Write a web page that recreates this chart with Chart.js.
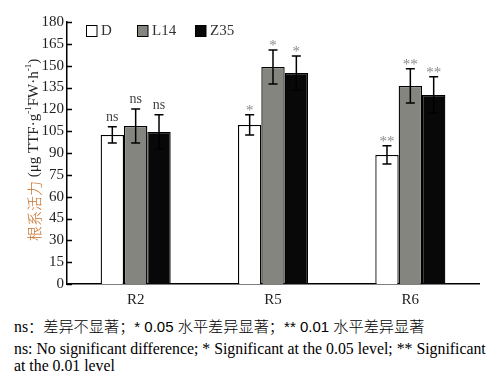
<!DOCTYPE html>
<html>
<head>
<meta charset="utf-8">
<script src="https://cdn.jsdelivr.net/npm/chart.js@4"></script>
<style>
  body { margin: 0; background: #fff; }
  #wrap { position: relative; width: 489px; height: 310px; }
  .note { position: absolute; left: 14px; font-family: "Liberation Serif", serif; font-size: 15.8px; color: #000; white-space: nowrap; line-height: 17px; }
  .cn { font-family: "Noto Sans CJK SC", sans-serif; font-size: 15.2px; font-weight: 300; }
  .sans { font-family: "Liberation Sans", sans-serif; font-size: 15px; }
</style>
</head>
<body>
<div id="wrap"><canvas id="chart" width="489" height="310"></canvas></div>
<div class="note" style="top:317px">ns<span class="cn">：差异不显著；</span><span class="sans">* 0.05 </span><span class="cn">水平差异显著；</span><span class="sans">** 0.01 </span><span class="cn">水平差异显著</span></div>
<div class="note" style="top:340px">ns: No significant difference; * Significant at the 0.05 level; ** Significant</div>
<div class="note" style="top:357px">at the 0.01 level</div>
<script>
// ── Dados ─────────────────────────────────────────────
const estagios = ['R2', 'R5', 'R6'];
const seriesNomes = ['D', 'L14', 'Z35'];
const valD   = [102.4, 109.3, 88.7];
const valL14 = [108.6, 149.1, 136.1];
const valZ35 = [104.5, 145.0, 129.9];
const errD   = [5.6, 6.9, 6.2];
const errL14 = [11.7, 11.7, 11.7];
const errZ35 = [11.7, 11.7, 12.4];
const sigD   = ['ns', '*', '**'];
const sigL14 = ['ns', '*', '**'];
const sigZ35 = ['ns', '*', '**'];
const yTicks = [0, 15, 30, 45, 60, 75, 90, 105, 120, 135, 150, 165, 180];

const cores = ['#ffffff', '#858580', '#080808'];
const erros = [errD, errL14, errZ35];
const sigs = [sigD, sigL14, sigZ35];
const SERIF = '"Liberation Serif", "Times New Roman", serif';

// ── Barras de erro + marcas de significância ─────────
const errorBarsPlugin = {
  id: 'errorBars',
  afterDatasetsDraw(chart) {
    const ctx = chart.ctx;
    const y = chart.scales.y;
    chart.data.datasets.forEach((ds, di) => {
      const meta = chart.getDatasetMeta(di);
      meta.data.forEach((bar, i) => {
        const v = ds.data[i], e = erros[di][i];
        const top = y.getPixelForValue(v + e);
        const bot = y.getPixelForValue(v - e);
        ctx.save();
        ctx.strokeStyle = '#000';
        ctx.lineWidth = 1.5;
        ctx.beginPath();
        ctx.moveTo(bar.x, top); ctx.lineTo(bar.x, bot);
        ctx.moveTo(bar.x - 4.5, top); ctx.lineTo(bar.x + 4.5, top);
        ctx.moveTo(bar.x - 4.5, bot); ctx.lineTo(bar.x + 4.5, bot);
        ctx.stroke();
        // marca
        const s = sigs[di][i];
        ctx.textAlign = 'center';
        if (s === 'ns') {
          ctx.fillStyle = '#444';
          ctx.font = '14px ' + SERIF;
          ctx.textBaseline = 'alphabetic';
          ctx.fillText(s, bar.x, top - 6);
        } else {
          ctx.fillStyle = '#8a8a8a';
          ctx.font = '15px ' + SERIF;
          ctx.textBaseline = 'top';
          ctx.fillText(s, bar.x, top - 11);
        }
        ctx.restore();
      });
    });
  }
};

// ── Ticks para dentro, legenda e título do eixo Y ────
const decorPlugin = {
  id: 'decor',
  afterDraw(chart) {
    const ctx = chart.ctx;
    const y = chart.scales.y;
    const area = chart.chartArea;
    ctx.save();
    ctx.strokeStyle = '#000';
    ctx.lineWidth = 1.3;
    ctx.beginPath();
    y.ticks.forEach((t, i) => {
      const py = Math.round(y.getPixelForTick(i)) + 0.5;
      ctx.moveTo(area.left, py); ctx.lineTo(area.left + 5, py);
    });
    ctx.stroke();

    // legenda
    const lx = [86, 137, 195];
    ctx.font = '15px ' + SERIF;
    ctx.textBaseline = 'middle';
    ctx.textAlign = 'left';
    chart.data.datasets.forEach((ds, di) => {
      ctx.fillStyle = cores[di];
      ctx.fillRect(lx[di], 25, 11, 12);
      ctx.strokeStyle = '#000';
      ctx.lineWidth = 1;
      ctx.strokeRect(lx[di] + 0.5, 25.5, 10.5, 11);
      ctx.fillStyle = '#333';
      ctx.fillText(ds.label, lx[di] + 15, 31.5);
    });

    // título Y (cores mistas)
    ctx.translate(34, 241);
    ctx.rotate(-Math.PI / 2);
    ctx.textBaseline = 'middle';
    let x = 0;
    const part = (txt, font, color, dy) => {
      ctx.font = font; ctx.fillStyle = color;
      ctx.fillText(txt, x, dy || 0);
      x += ctx.measureText(txt).width;
    };
    part('根系活力', '300 15px "Noto Sans CJK SC", sans-serif', '#c8702a');
    part(' (μg TTF·g', '15px ' + SERIF, '#222');
    part('-1', '9px ' + SERIF, '#222', -5);
    part('FW·h', '15px ' + SERIF, '#222');
    part('-1', '9px ' + SERIF, '#222', -5);
    part(')', '15px ' + SERIF, '#222');
    ctx.restore();
  }
};

const datasets = [valD, valL14, valZ35].map((vals, di) => ({
  label: seriesNomes[di],
  data: vals,
  backgroundColor: cores[di],
  borderColor: '#000',
  borderWidth: 1.3,
  borderSkipped: 'bottom',
  barPercentage: 1,
  categoryPercentage: 0.51
}));

new Chart(document.getElementById('chart'), {
  type: 'bar',
  data: { labels: estagios, datasets },
  plugins: [errorBarsPlugin, decorPlugin],
  options: {
    responsive: false,
    animation: false,
    layout: { padding: { top: 22, right: 10, left: 0, bottom: 0 } },
    plugins: { legend: { display: false }, tooltip: { enabled: false } },
    scales: {
      x: {
        grid: { display: false, drawTicks: false },
        border: { color: '#000', width: 1.5 },
        ticks: { color: '#222', font: { family: SERIF, size: 15 }, padding: 7 },
        afterFit: s => { s.height = 26; }
      },
      y: {
        min: 0, max: 180,
        afterBuildTicks: s => { s.ticks = yTicks.map(v => ({ value: v })); },
        grid: { display: false, drawTicks: false },
        border: { color: '#000', width: 1.5 },
        ticks: { color: '#222', font: { family: SERIF, size: 15 }, padding: 3 },
        afterFit: s => { s.width = 67; }
      }
    }
  }
});
</script>
</body>
</html>
